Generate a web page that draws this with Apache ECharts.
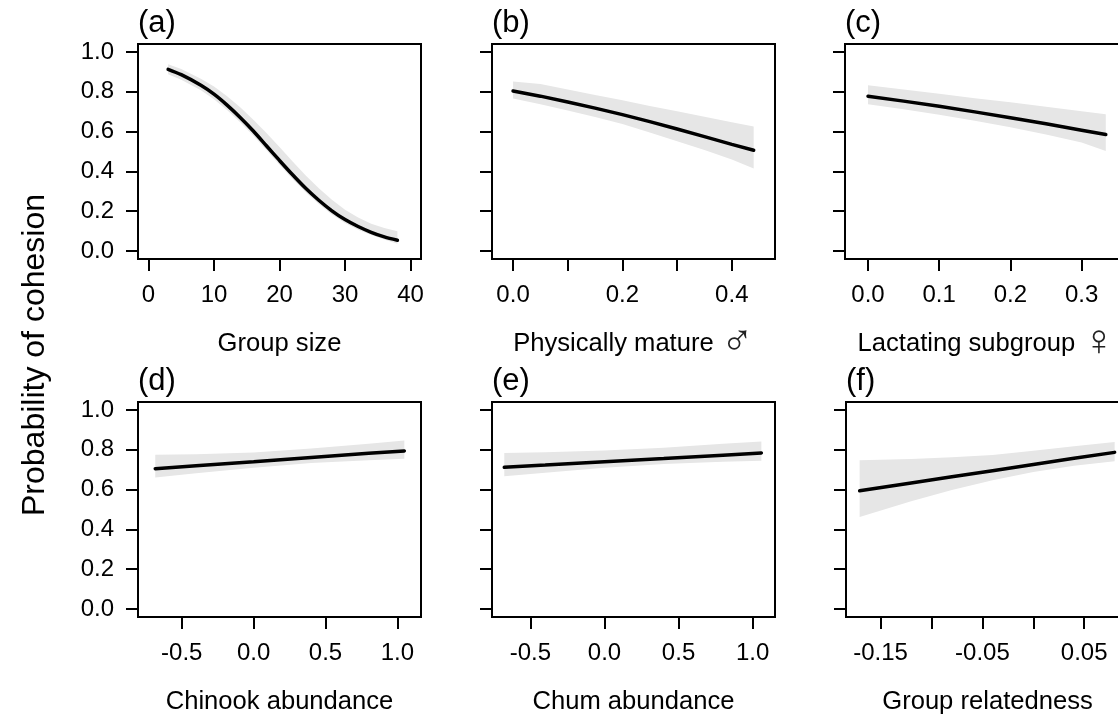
<!DOCTYPE html>
<html>
<head>
<meta charset="utf-8">
<script src="https://cdn.jsdelivr.net/npm/echarts@6/dist/echarts.min.js"></script>
<style>
  html, body { margin: 0; padding: 0; background: #fff; }
  #chart { width: 1118px; height: 715px; }
</style>
</head>
<body>
<div id="chart"></div>
<script>
// (a) group size
var aX   = [3, 5, 8, 10, 12, 14, 16, 18, 20, 22, 24, 26, 28, 30, 32, 34, 36, 38];
var aFit = [0.913, 0.886, 0.833, 0.788, 0.733, 0.671, 0.603, 0.529, 0.455, 0.383, 0.315, 0.255, 0.202, 0.158, 0.123, 0.094, 0.071, 0.054];
var aLow = [0.888, 0.860, 0.808, 0.763, 0.708, 0.647, 0.580, 0.507, 0.433, 0.362, 0.295, 0.236, 0.184, 0.141, 0.107, 0.080, 0.058, 0.036];
var aUp  = [0.938, 0.915, 0.866, 0.826, 0.778, 0.722, 0.660, 0.593, 0.522, 0.450, 0.380, 0.316, 0.258, 0.208, 0.168, 0.137, 0.116, 0.100];
var aTicks = [0, 10, 20, 30, 40];
var aLabels = [0, 10, 20, 30, 40];

// (b) physically mature males
var bX   = [0, 0.05, 0.1, 0.15, 0.2, 0.25, 0.3, 0.35, 0.4, 0.44];
var bFit = [0.804, 0.778, 0.749, 0.718, 0.685, 0.650, 0.613, 0.575, 0.536, 0.506];
var bLow = [0.766, 0.737, 0.706, 0.673, 0.638, 0.596, 0.552, 0.508, 0.460, 0.414];
var bUp  = [0.852, 0.839, 0.812, 0.784, 0.757, 0.729, 0.702, 0.674, 0.647, 0.625];
var bTicks = [0, 0.1, 0.2, 0.3, 0.4];
var bLabels = [0, 0.2, 0.4];

// (c) lactating subgroup
var cX   = [0, 0.05, 0.1, 0.15, 0.2, 0.25, 0.3, 0.334];
var cFit = [0.777, 0.753, 0.727, 0.699, 0.670, 0.639, 0.607, 0.585];
var cLow = [0.737, 0.712, 0.685, 0.655, 0.622, 0.585, 0.545, 0.503];
var cUp  = [0.833, 0.812, 0.790, 0.768, 0.747, 0.725, 0.702, 0.687];
var cTicks = [0, 0.1, 0.2, 0.3];
var cLabels = [0, 0.1, 0.2, 0.3];

// (d) chinook abundance
var dX   = [-0.684, -0.4, 0, 0.4, 0.8, 1.048];
var dFit = [0.705, 0.720, 0.740, 0.761, 0.782, 0.794];
var dLow = [0.661, 0.682, 0.710, 0.733, 0.748, 0.755];
var dUp  = [0.775, 0.777, 0.786, 0.806, 0.830, 0.846];
var dTicks = [-0.5, 0, 0.5, 1];
var dLabels = [-0.5, 0, 0.5, 1];

// (e) chum abundance
var eX   = [-0.676, -0.4, 0, 0.4, 0.8, 1.059];
var eFit = [0.712, 0.723, 0.740, 0.756, 0.773, 0.784];
var eLow = [0.667, 0.685, 0.710, 0.728, 0.740, 0.745];
var eUp  = [0.784, 0.788, 0.796, 0.810, 0.830, 0.842];
var eTicks = [-0.5, 0, 0.5, 1];
var eLabels = [-0.5, 0, 0.5, 1];

// (f) group relatedness
var fX   = [-0.1706, -0.12, -0.08, -0.04, 0, 0.04, 0.0799];
var fFit = [0.594, 0.633, 0.664, 0.695, 0.726, 0.757, 0.787];
var fLow = [0.462, 0.542, 0.598, 0.647, 0.688, 0.720, 0.742];
var fUp  = [0.747, 0.754, 0.762, 0.774, 0.795, 0.818, 0.839];
var fTicks = [-0.15, -0.1, -0.05, 0, 0.05];
var fLabels = [-0.15, -0.05, 0.05];

var yTicks = [0, 0.2, 0.4, 0.6, 0.8, 1];

var FONT = '"Liberation Sans", Arial, Helvetica, sans-serif';
var TOP1 = 44, TOP2 = 402, BOXW = 283, BOXH = 215;

var panels = [
  { tag: '(a)', name: 'Group size', x: aX, fit: aFit, low: aLow, up: aUp, ticks: aTicks, labels: aLabels, min: -1.6, max: 41.6, dec: 0, left: 138, top: TOP1, yLab: true, smooth: 0.3 },
  { tag: '(b)', name: 'Physically mature {s|\u2642}', x: bX, fit: bFit, low: bLow, up: bUp, ticks: bTicks, labels: bLabels, min: -0.0385, max: 0.479, dec: 1, left: 492, top: TOP1, yLab: false, smooth: false },
  { tag: '(c)', name: 'Lactating subgroup {s|\u2640}', x: cX, fit: cFit, low: cLow, up: cUp, ticks: cTicks, labels: cLabels, min: -0.0323, max: 0.3652, dec: 1, left: 845, top: TOP1, yLab: false, smooth: false },
  { tag: '(d)', name: 'Chinook abundance', x: dX, fit: dFit, low: dLow, up: dUp, ticks: dTicks, labels: dLabels, min: -0.804, max: 1.164, dec: 1, left: 138, top: TOP2, yLab: true, smooth: false },
  { tag: '(e)', name: 'Chum abundance', x: eX, fit: eFit, low: eLow, up: eUp, ticks: eTicks, labels: eLabels, min: -0.759, max: 1.151, dec: 1, left: 492, top: TOP2, yLab: false, smooth: false },
  { tag: '(f)', name: 'Group relatedness', x: fX, fit: fFit, low: fLow, up: fUp, ticks: fTicks, labels: fLabels, min: -0.184, max: 0.094, dec: 2, left: 846, top: TOP2, yLab: false, smooth: false }
];

var grids = [], xAxes = [], yAxes = [], series = [], graphics = [];

panels.forEach(function (p, i) {
  grids.push({
    left: p.left, top: p.top, width: BOXW, height: BOXH,
    show: true, borderColor: '#000', borderWidth: 2, backgroundColor: 'transparent',
    containLabel: false, outerBoundsMode: 'none'
  });
  xAxes.push({
    gridIndex: i, type: 'value', min: p.min, max: p.max, position: 'bottom',
    axisLine: { show: false, onZero: false }, splitLine: { show: false },
    axisTick: { show: true, length: 12, lineStyle: { color: '#000', width: 2 }, customValues: p.ticks },
    axisLabel: {
      customValues: p.labels, color: '#000', fontSize: 24, fontFamily: FONT, margin: 24,
      formatter: (function (dec) { return function (v) { return Number(v).toFixed(dec); }; })(p.dec)
    },
    name: p.name, nameLocation: 'middle', nameGap: 70,
    nameTextStyle: {
      color: '#000', fontSize: 25.6, fontFamily: FONT, lineHeight: 30,
      rich: { s: { fontSize: 44, lineHeight: 30, fontFamily: '"DejaVu Sans ExtraLight", "DejaVu Sans", sans-serif', fontWeight: 200, color: '#222' } }
    }
  });
  yAxes.push({
    gridIndex: i, type: 'value', min: -0.04, max: 1.04, position: 'left',
    axisLine: { show: false, onZero: false }, splitLine: { show: false },
    axisTick: { show: true, length: 12, lineStyle: { color: '#000', width: 2 }, customValues: yTicks },
    axisLabel: {
      show: p.yLab, customValues: yTicks, color: '#000', fontSize: 24, fontFamily: FONT, margin: 24,
      formatter: function (v) { return Number(v).toFixed(1); }
    }
  });
  // confidence band as one polygon
  series.push({
    type: 'custom', xAxisIndex: i, yAxisIndex: i, silent: true, z: 1,
    data: p.x.map(function (v, j) { return [v, p.low[j], p.up[j]]; }),
    encode: { x: 0, y: [1, 2] },
    renderItem: function (params, api) {
      if (params.dataIndex !== 0) return null;
      var pts = [];
      for (var j = 0; j < p.x.length; j++) pts.push(api.coord([p.x[j], p.up[j]]));
      for (var k = p.x.length - 1; k >= 0; k--) pts.push(api.coord([p.x[k], p.low[k]]));
      return { type: 'polygon', shape: { points: pts }, style: { fill: '#e6e6e6', stroke: null } };
    }
  });
  series.push({
    type: 'line', xAxisIndex: i, yAxisIndex: i, z: 3,
    data: p.x.map(function (v, j) { return [v, p.fit[j]]; }),
    symbol: 'none', smooth: p.smooth,
    lineStyle: { color: '#000', width: 3.5, cap: 'round' }
  });
  graphics.push({
    type: 'text', left: p.left, top: p.top - 36,
    style: { text: p.tag, font: '31px ' + FONT, fill: '#000' }
  });
});

graphics.push({
  type: 'text', x: 35, y: 355, rotation: Math.PI / 2,
  style: { text: 'Probability of cohesion', font: '32px ' + FONT, fill: '#000', align: 'center', verticalAlign: 'middle' }
});

var chart = echarts.init(document.getElementById('chart'));
chart.setOption({
  animation: false,
  backgroundColor: '#fff',
  grid: grids,
  xAxis: xAxes,
  yAxis: yAxes,
  series: series,
  graphic: graphics
});
</script>
</body>
</html>
